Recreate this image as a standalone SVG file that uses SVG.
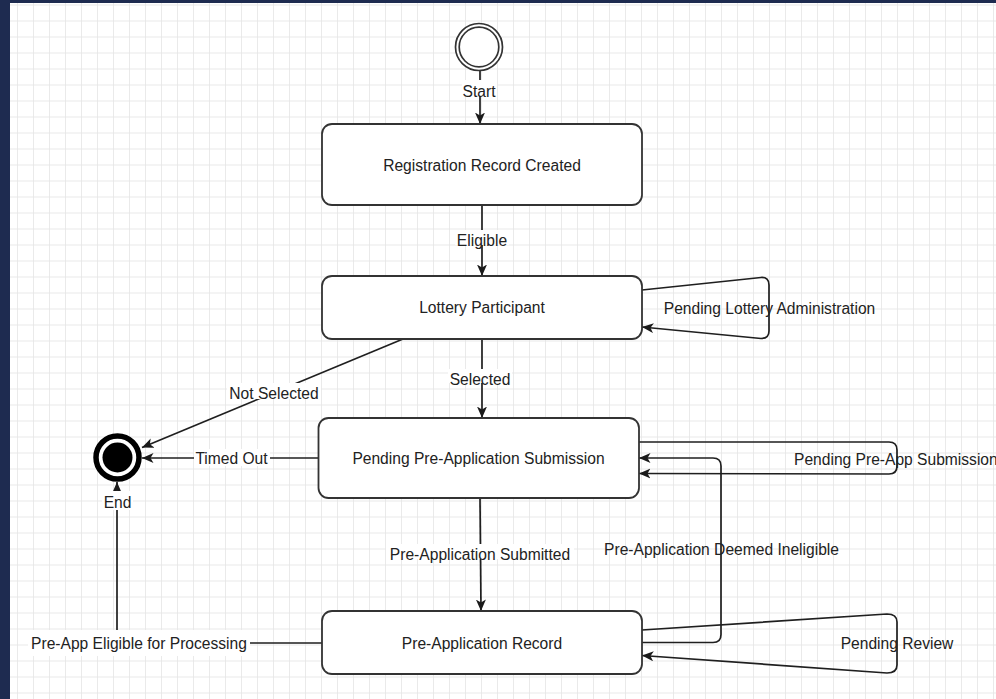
<svg xmlns="http://www.w3.org/2000/svg" width="996" height="699" viewBox="0 0 996 699">
<defs>
<pattern id="grid" x="2" y="5.5" width="16" height="16" patternUnits="userSpaceOnUse">
<path d="M16,0 L16,16 M0,16 L16,16" fill="none" stroke="#e4e4e4" stroke-width="1.5"/>
</pattern>
<marker id="arr" markerUnits="userSpaceOnUse" markerWidth="14" markerHeight="12" refX="11.5" refY="5" orient="auto" viewBox="0 0 14 12">
<path d="M0,0 L11.5,5 L0,10 L3,5 Z" fill="#1a1a1a"/>
</marker>
<style>
.node rect{fill:#ffffff;stroke:#333333;stroke-width:1.8}
.lbl{font-family:"Liberation Sans",Arial,sans-serif;font-size:15.6px;fill:#222222;text-anchor:middle}
.edge{fill:none;stroke:#1f1f1f;stroke-width:1.7}
.bg{fill:#ffffff}
</style>
</defs>
<rect x="0" y="0" width="996" height="699" fill="#ffffff"/>
<rect x="0" y="0" width="996" height="699" fill="url(#grid)"/>
<rect x="0" y="0" width="10" height="699" fill="#1e2b50"/>
<rect x="0" y="0" width="996" height="3" fill="#1e2b50"/>

<g id="connectors">
<path class="edge" d="M480,71 L480,124" marker-end="url(#arr)"/>
<path class="edge" d="M482,205 L482,276" marker-end="url(#arr)"/>
<path class="edge" d="M482,339 L482,418" marker-end="url(#arr)"/>
<path class="edge" d="M480,498 L481,611" marker-end="url(#arr)"/>
<path class="edge" d="M403,339 L142,447.5" marker-end="url(#arr)"/>
<path class="edge" d="M318,458 L142,458" marker-end="url(#arr)"/>
<path class="edge" d="M642,290 L761,277.5 Q769,277 769,285 L769,331 Q769,338.5 761,338.5 L642,327" marker-end="url(#arr)"/>
<path class="edge" d="M639,442 L889,442 Q897,442 897,450 L897,466 Q897,474 889,474 L639,473.5" marker-end="url(#arr)"/>
<path class="edge" d="M642,642.5 L713,642.5 Q721,642.5 721,634.5 L721,466 Q721,458 713,458 L639,458" marker-end="url(#arr)"/>
<path class="edge" d="M642,630 L887,614 Q897,614 897,622 L897,665 Q897,673 887,673 L642,655.5" marker-end="url(#arr)"/>
<path class="edge" d="M322,643 L117,643 L117,482" marker-end="url(#arr)"/>

<rect class="bg" x="462" y="80" width="35" height="16"/>
<text class="lbl" x="479" y="96.5">Start</text>
<rect class="bg" x="455" y="230" width="54" height="15"/>
<text class="lbl" x="482" y="246">Eligible</text>
<rect class="bg" x="448" y="369" width="64" height="14"/>
<text class="lbl" x="480" y="384.5">Selected</text>
<rect class="bg" x="386" y="544" width="188" height="15"/>
<text class="lbl" x="480" y="560">Pre-Application Submitted</text>
<rect class="bg" x="227" y="383" width="94" height="16"/>
<text class="lbl" x="274" y="398.5">Not Selected</text>
<rect class="bg" x="194" y="449" width="76" height="17"/>
<text class="lbl" x="231.5" y="463.5">Timed Out</text>
<rect class="bg" x="28" y="630" width="222" height="26"/>
<text class="lbl" x="139" y="648.5">Pre-App Eligible for Processing</text>
<text class="lbl" x="769.5" y="314">Pending Lottery Administration</text>
<text class="lbl" x="794" y="465" style="text-anchor:start">Pending Pre-App Submission</text>
<text class="lbl" x="721.5" y="555">Pre-Application Deemed Ineligible</text>
<text class="lbl" x="897" y="649">Pending Review</text>
</g>

<g id="start">
<circle cx="479" cy="47" r="23.5" fill="#ffffff" stroke="#333333" stroke-width="1.7"/>
<circle cx="479" cy="47" r="19.8" fill="#ffffff" stroke="#333333" stroke-width="1.7"/>
</g>

<g id="end">
<circle cx="117.5" cy="457.5" r="21.5" fill="#ffffff" stroke="#000000" stroke-width="5.5"/>
<circle cx="117.5" cy="457.5" r="15" fill="#000000"/>
<rect class="bg" x="102" y="491" width="31" height="19"/>
<text class="lbl" x="117.5" y="507.5">End</text>
</g>

<g id="node-registration" class="node">
<rect x="322" y="124" width="320" height="81" rx="10" ry="10"/>
<text class="lbl" x="482" y="170.5">Registration Record Created</text>
</g>

<g id="node-lottery" class="node">
<rect x="322" y="276" width="320" height="63" rx="10" ry="10"/>
<text class="lbl" x="482" y="313">Lottery Participant</text>
</g>

<g id="node-pending-submission" class="node">
<rect x="318.5" y="418" width="320.5" height="80" rx="10" ry="10"/>
<text class="lbl" x="478.5" y="463.5">Pending Pre-Application Submission</text>
</g>

<g id="node-preapp-record" class="node">
<rect x="322" y="611" width="320" height="63" rx="10" ry="10"/>
<text class="lbl" x="482" y="648.5">Pre-Application Record</text>
</g>
</svg>
